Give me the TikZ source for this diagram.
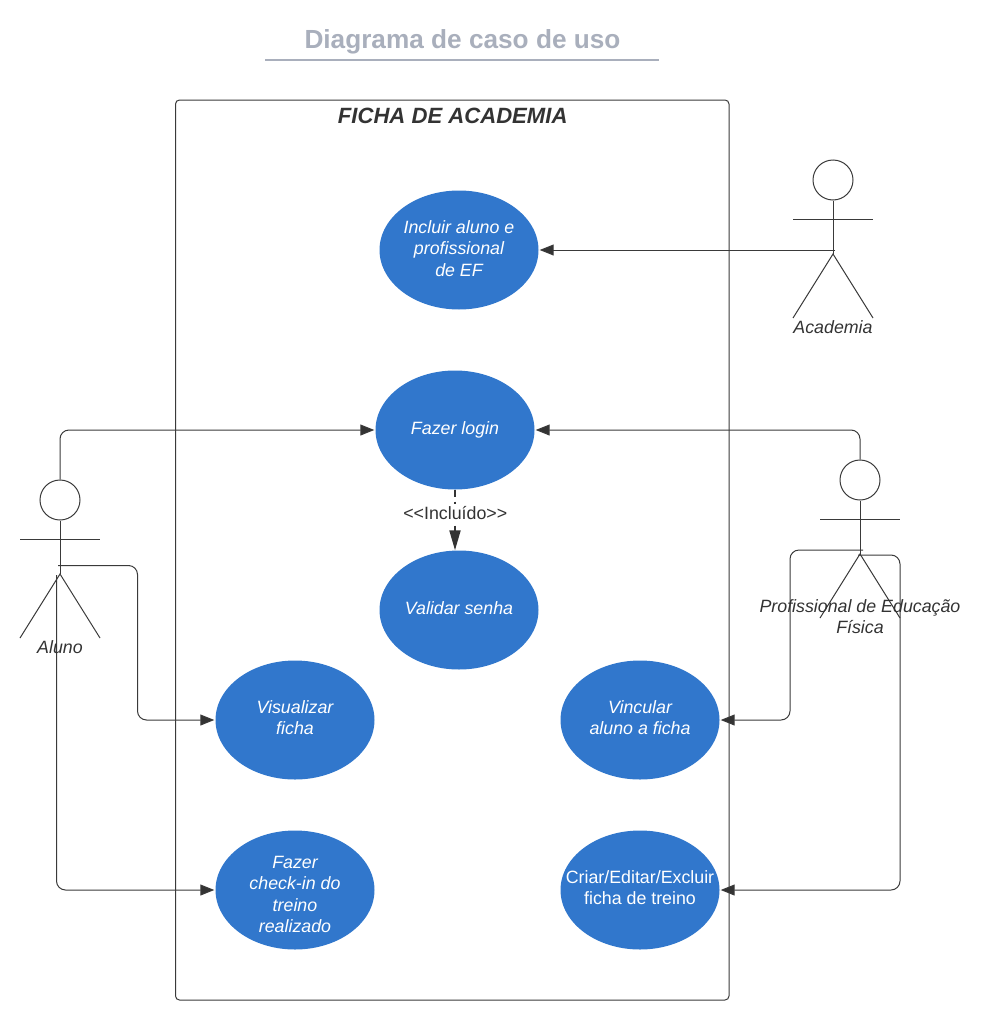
\documentclass[tikz,border=0pt]{standalone}
\usepackage{fontspec}
\setmainfont{Liberation Sans}
\usetikzlibrary{arrows.meta,shapes.geometric}
\definecolor{ucblue}{HTML}{3177CC}
\definecolor{ink}{HTML}{333333}
\definecolor{titlegrey}{HTML}{A9AFBC}
\definecolor{wire}{HTML}{3A3A3A}
\newcommand{\casetxt}[2][-5pt]{\makebox[0pt]{\raisebox{#1}[0pt][0pt]{\begin{tabular}{@{}c@{}}#2\end{tabular}}}}
\tikzset{
  usecase/.style={ellipse,fill=ucblue,text=white,minimum width=159pt,minimum height=119pt,inner sep=0pt,font=\fontsize{17.8}{21.4}\selectfont\itshape},
  usecaseplain/.style={usecase,font=\fontsize{17.8}{21.4}\selectfont},
  head/.style={circle,draw=wire,line width=1pt,minimum size=40pt,inner sep=0pt},
  stick/.style={draw=wire,line width=1pt},
  actorlabel/.style={text=ink,align=center,inner sep=0pt,font=\fontsize{17.8}{21.4}\selectfont\itshape},
  link/.style={draw=wire,line width=1pt,rounded corners=9pt,shorten >=1pt,-{Triangle[length=14pt,width=11pt,fill=ink]}},
  incl/.style={draw=ink,line width=2pt,dash pattern=on 7pt off 5pt,-{Triangle[length=20pt,width=11pt,fill=ink]}},
}
\begin{document}
\begin{tikzpicture}[x=1pt,y=-1pt]
\useasboundingbox (0,0) rectangle (986,1017);
% title
\node[text=titlegrey,font=\fontsize{26.2}{30}\selectfont\bfseries] (title) at (462.5,41.5) {Diagrama de caso de uso};
\coordinate (tl) at (265,60);
\coordinate (tr) at (659,60);
\draw[titlegrey,line width=2pt] (tl) -- (tr);
% system boundary
\node[draw=wire,line width=1pt,rounded corners=4pt,minimum width=553.5pt,minimum height=900pt,inner sep=0pt] (system) at (452.25,550) {};
\node[text=ink,font=\fontsize{22.1}{26}\selectfont\bfseries\itshape] (systitle) at (452.7,115.5) {FICHA DE ACADEMIA};
% use cases
\node[usecase] (incluir) at (459,250) {\casetxt{Incluir aluno e\\profissional\\de EF}};
\node[usecase] (login) at (455,430) {\casetxt{Fazer login}};
\node[usecase] (validar) at (459,610) {\casetxt{Validar senha}};
\node[usecase] (visualizar) at (295,720) {\casetxt[-4pt]{Visualizar\\ficha}};
\node[usecase] (vincular) at (640,720) {\casetxt[-4pt]{Vincular\\aluno a ficha}};
\node[usecase] (checkin) at (295,890) {\casetxt[-10.5pt]{Fazer\\check-in do\\treino\\realizado}};
\node[usecaseplain] (criar) at (640,890) {\casetxt[-4pt]{Criar/Editar/Excluir\\ficha de treino}};
% actor Aluno
\node[head] (hAluno) at (60,500) {};
\coordinate (hipAluno) at (60,574);
\draw[stick] (hAluno.south) -- (hipAluno);
\draw[stick] (20,539) -- (100,539);
\draw[stick] (20,638) -- (hipAluno) -- (100,638);
% actor Academia
\node[head] (hAcad) at (833,180) {};
\coordinate (hipAcad) at (833,254);
\draw[stick] (hAcad.south) -- (hipAcad);
\draw[stick] (793,219) -- (873,219);
\draw[stick] (793,318) -- (hipAcad) -- (873,318);
% actor Profissional
\node[head] (hProf) at (860,480) {};
\coordinate (hipProf) at (860,554);
\draw[stick] (hProf.south) -- (hipProf);
\draw[stick] (820,519) -- (900,519);
\draw[stick] (820,618) -- (hipProf) -- (900,618);
% connector free ends
\coordinate (alunoA) at (58,565.5);
\coordinate (alunoB) at (56.5,575);
\coordinate (acadA) at (835,250);
\coordinate (profA) at (863,550);
\coordinate (profB) at (858,555);
% connectors
\draw[link] (hAluno.north) |- (login.west);
\draw[link] (alunoA) -- (137.5,565.5) |- (visualizar.west);
\draw[link] (alunoB) |- (checkin.west);
\draw[link] (acadA) -- (incluir.east);
\draw[link] (hProf.north) |- (login.east);
\draw[link] (profA) -- (790,550) |- (vincular.east);
\draw[link] (profB) -- (900,555) |- (criar.east);
\draw[incl,xshift=0.5pt] (login.south) -- (login.south |- validar.north);
\node[fill=white,text=ink,inner xsep=1pt,inner ysep=2pt,font=\fontsize{17.8}{21}\selectfont] (incLabel) at (455.3,513) {<{}<Incluído>{}>};
% actor labels
\node[actorlabel] (lAluno) at (60,647) {Aluno};
\node[actorlabel] (lAcad) at (833,327) {Academia};
\node[actorlabel] (lProf) at (860,616.5) {Profissional de Educação\\Física};
\end{tikzpicture}
\end{document}
